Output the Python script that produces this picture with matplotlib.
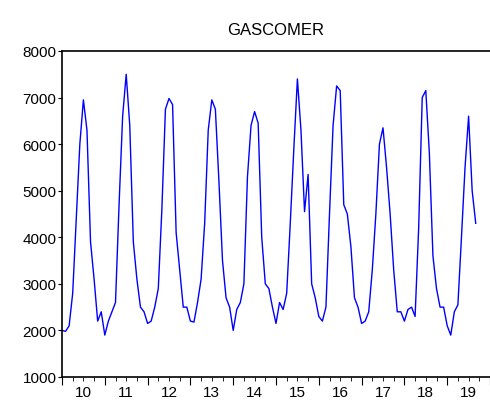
import matplotlib
matplotlib.use("Agg")
import matplotlib.pyplot as plt
import numpy as np

plt.rcParams['font.family'] = ['Liberation Sans', 'DejaVu Sans']

values = [
 2000,1980,2100,2800,4400,6000,6950,6300,3900,3100,2200,2400,
 1900,2200,2400,2600,4700,6600,7500,6400,3900,3100,2500,2400,
 2150,2200,2500,2900,4600,6750,6980,6850,4100,3300,2500,2500,
 2200,2180,2600,3100,4300,6300,6950,6750,5200,3500,2700,2500,
 2000,2450,2600,3000,5300,6400,6700,6450,4000,3000,2900,2500,
 2150,2600,2450,2800,4300,5900,7400,6300,4550,5350,3000,2700,
 2300,2200,2500,4500,6400,7250,7150,4700,4500,3800,2700,2500,
 2150,2200,2400,3300,4500,6000,6350,5500,4500,3300,2400,2400,
 2200,2450,2500,2300,4200,7000,7150,5800,3600,2900,2500,2500,
 2100,1900,2400,2550,4000,5500,6600,5000,4300]
start_year = 2010
year_labels = ["10","11","12","13","14","15","16","17","18","19"]

x = start_year + np.arange(len(values))/12.0
fig = plt.figure(figsize=(4.9,4.06), dpi=100)
ax = fig.add_axes([62/490, 1-378/406, (490-62)/490, (378-52)/406])
ax.plot(x, values, color="#0000ff", lw=1)
ax.set_xlim(2010, 2019+0.85)
ax.set_ylim(1000, 8000)
ax.set_yticks([1000,2000,3000,4000,5000,6000,7000,8000])
ax.set_xticks(np.arange(2010, 2020.1, 1))
ax.set_xticks(np.arange(2010, 2020, 0.25), minor=True)
ax.set_xticklabels([])
for i, lab in enumerate(year_labels):
    ax.text(2010.5+i, -0.025, lab, transform=ax.get_xaxis_transform(), ha="center", va="top", fontsize=11)
ax.spines["right"].set_visible(False)
for s in ax.spines.values():
    s.set_linewidth(1.2)
ax.tick_params(axis="y", labelsize=11, direction="out", length=3, pad=1)
ax.tick_params(axis="x", which="major", direction="out", length=6)
ax.tick_params(axis="x", which="minor", direction="out", length=3)
ax.set_title("GASCOMER", fontsize=12, pad=12)
fig.savefig("out.png", dpi=100)
